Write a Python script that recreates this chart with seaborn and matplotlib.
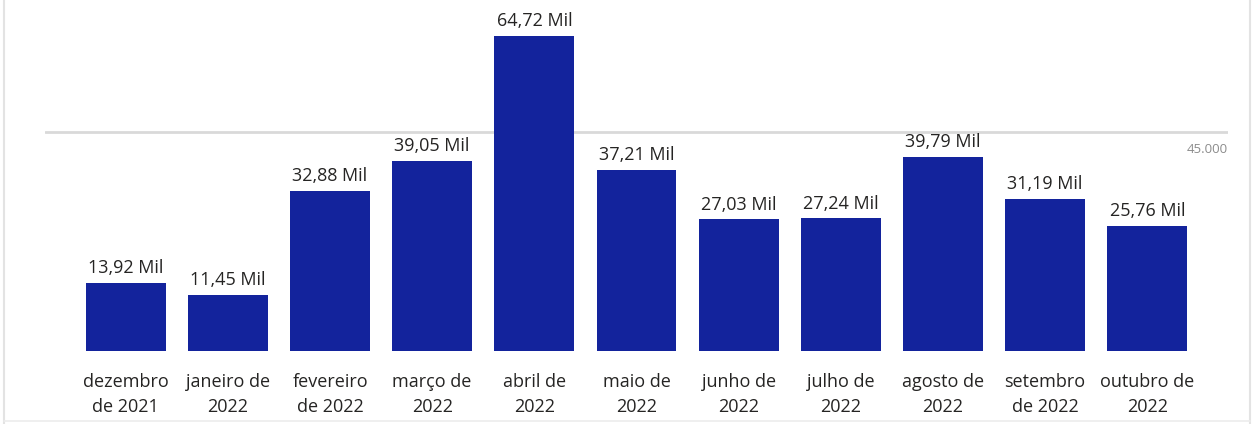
import pandas as pd
import matplotlib.pyplot as plt
import seaborn as sns
from matplotlib.lines import Line2D

# Dados (em milhares)
meses = ['dezembro\nde 2021', 'janeiro de\n2022', 'fevereiro\nde 2022', 'março de\n2022',
         'abril de\n2022', 'maio de\n2022', 'junho de\n2022', 'julho de\n2022',
         'agosto de\n2022', 'setembro\nde 2022', 'outubro de\n2022']
valores = [13.92, 11.45, 32.88, 39.05, 64.72, 37.21, 27.03, 27.24, 39.79, 31.19, 25.76]
rotulos = ['13,92 Mil', '11,45 Mil', '32,88 Mil', '39,05 Mil', '64,72 Mil', '37,21 Mil',
           '27,03 Mil', '27,24 Mil', '39,79 Mil', '31,19 Mil', '25,76 Mil']
meta = 45.0

df = pd.DataFrame({'Mes': meses, 'Valor': valores})

sns.set_style('white')
plt.rcParams['font.family'] = ['Open Sans', 'DejaVu Sans']

fig = plt.figure(figsize=(12.58, 4.24), dpi=100)
ax = fig.add_axes([45 / 1258, 73 / 424, 1183 / 1258, 351 / 424])

sns.barplot(data=df, x='Mes', y='Valor', color='#13239c', saturation=1, width=0.78,
            linewidth=0, ax=ax)

# linha de referência
ax.axhline(meta, color='#d9d9d9', linewidth=2, zorder=0)
ax.text(10.79, meta - 2.2, '45.000', ha='right', va='top', fontsize=9.5, color='#8c8c8c')

# rótulos de dados
for i, v in enumerate(valores):
    ax.text(i, v + 1.2, rotulos[i], ha='center', va='bottom', fontsize=13, color='#252423')

ax.set_xlim(-0.79, 10.79)
ax.set_ylim(0, 72.1)
ax.set_yticks([])
ax.set_xlabel('')
ax.set_ylabel('')
ax.tick_params(axis='x', length=0, pad=16, labelsize=13, labelcolor='#252423')
for lab in ax.get_xticklabels():
    lab.set_linespacing(1.45)
for s in ax.spines.values():
    s.set_visible(False)

# moldura do visual
fig.add_artist(Line2D([4 / 1258, 4 / 1258], [0, 1], color='#e3e3e3', linewidth=1.5))
fig.add_artist(Line2D([1250 / 1258, 1250 / 1258], [0, 1], color='#e3e3e3', linewidth=1.5))
fig.add_artist(Line2D([4 / 1258, 1250 / 1258], [3 / 424, 3 / 424], color='#ececec', linewidth=1.2))

plt.savefig('out.png', dpi=100)
plt.close()
